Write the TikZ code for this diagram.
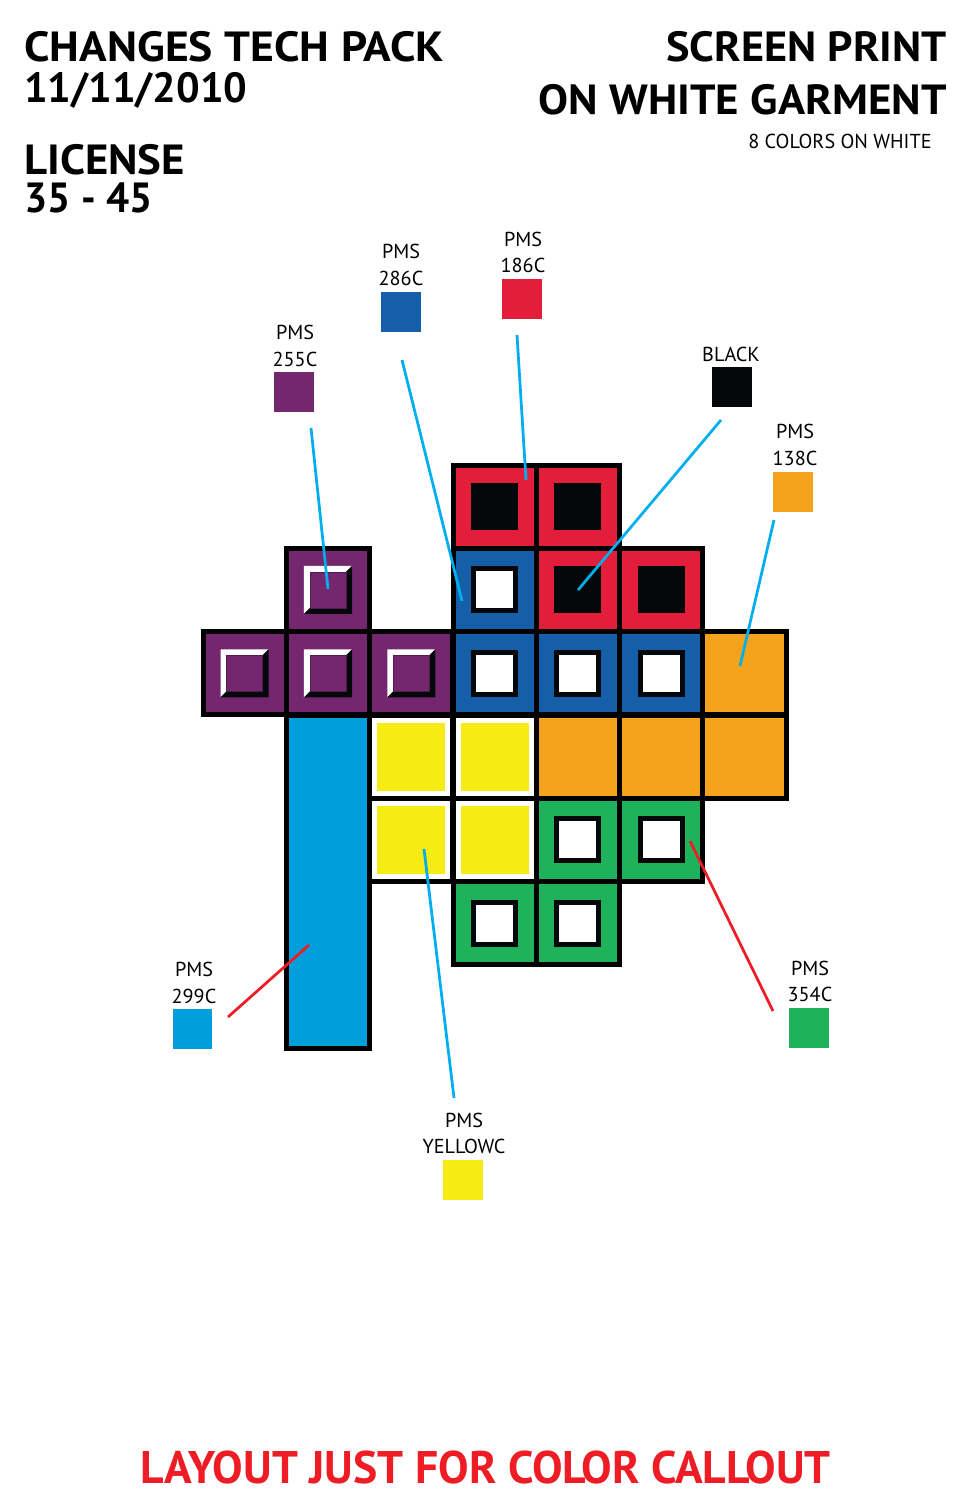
\documentclass[tikz,border=0pt]{standalone}
\usepackage{fontspec}
\setmainfont{PT Sans}
\definecolor{cpurple}{HTML}{74276F}
\definecolor{cblue}{HTML}{155FA9}
\definecolor{cred}{HTML}{E31E3A}
\definecolor{cblack}{HTML}{05080A}
\definecolor{corange}{HTML}{F5A31D}
\definecolor{ccyan}{HTML}{009FDC}
\definecolor{cyellow}{HTML}{F6EC14}
\definecolor{cgreen}{HTML}{20B25A}
\definecolor{lcyan}{HTML}{00AEEF}
\definecolor{lred}{HTML}{EE1C24}
\tikzset{
  cell/.style={draw=black, line width=0.1cm, minimum width=1.6667cm, minimum height=1.6667cm, inner sep=0pt, outer sep=0pt},
  swatch/.style={minimum width=0.8cm, minimum height=0.8cm, inner sep=0pt, outer sep=0pt},
  lbl/.style={font=\fontsize{11.5}{14}\selectfont, anchor=base, inner sep=0pt},
  head/.style={font=\fontsize{24}{28}\selectfont\bfseries, inner sep=0pt, text height=17pt, text depth=0pt},
  foothead/.style={font=\fontsize{26}{30}\selectfont\bfseries, inner sep=0pt, text height=18.5pt, text depth=0pt},
  cline/.style={draw=lcyan, line width=0.055cm},
  rline/.style={draw=lred, line width=0.055cm},
}
\newcommand{\cellpos}[2]{({203+(#1+0.5)*83.33},{465+(#2+0.5)*83.33})}
\begin{document}
\begin{tikzpicture}[x=0.02cm, y=-0.02cm]
\useasboundingbox (0,0) rectangle (971,1500);
% headings
\node[head, anchor=base west] (h1) at (24,62) {\scalebox{1.083}[1]{CHANGES TECH PACK}};
\node[head, anchor=base west] (h2) at (24,103) {\scalebox{0.989}[1]{11/11/2010}};
\node[head, anchor=base west] (h3) at (24,175) {\scalebox{1.062}[1]{LICENSE}};
\node[head, anchor=base west] (h4) at (24,213) {\scalebox{0.969}[1]{35 - 45}};
\node[head, anchor=base east] (h5) at (947,62) {\scalebox{1.051}[1]{SCREEN PRINT}};
\node[head, anchor=base east] (h6) at (947,115) {\scalebox{1.065}[1]{ON WHITE GARMENT}};
\node[lbl, anchor=base east] (h7) at (932,149) {8 COLORS ON WHITE};
\node[foothead, anchor=base, text=lred] (foot) at (485.5,1483) {LAYOUT JUST FOR COLOR CALLOUT};
% cyan bar
\node[cell, fill=ccyan, minimum height=6.6667cm] (bar) at ({203+1.5*83.33},{465+5*83.33}) {};
% red cells
\foreach \c/\r in {3/0,4/0,4/1,5/1}{
  \node[cell, fill=cred] (red\c\r) at \cellpos{\c}{\r} {};
  \fill[cblack] ([shift={(-23.5,-23.5)}]red\c\r.center) rectangle ([shift={(23.5,23.5)}]red\c\r.center);
}
% blue cells
\foreach \c/\r in {3/1,3/2,4/2,5/2}{
  \node[cell, fill=cblue] (blue\c\r) at \cellpos{\c}{\r} {};
  \filldraw[fill=white, draw=cblack, line width=0.1cm] ([shift={(-21,-21)}]blue\c\r.center) rectangle ([shift={(21,21)}]blue\c\r.center);
}
% green cells
\foreach \c/\r in {4/4,5/4,3/5,4/5}{
  \node[cell, fill=cgreen] (green\c\r) at \cellpos{\c}{\r} {};
  \filldraw[fill=white, draw=cblack, line width=0.1cm] ([shift={(-21,-21)}]green\c\r.center) rectangle ([shift={(21,21)}]green\c\r.center);
}
% orange cells
\foreach \c/\r in {6/2,4/3,5/3,6/3}{
  \node[cell, fill=corange] (orange\c\r) at \cellpos{\c}{\r} {};
}
% yellow cells
\foreach \c/\r in {2/3,3/3,2/4,3/4}{
  \node[cell, fill=white] (yel\c\r) at \cellpos{\c}{\r} {};
  \fill[cyellow] ([shift={(-34,-34)}]yel\c\r.center) rectangle ([shift={(34,34)}]yel\c\r.center);
}
% purple cells with bevel
\foreach \c/\r in {1/1,0/2,1/2,2/2}{
  \node[cell, fill=cpurple] (pur\c\r) at \cellpos{\c}{\r} {};
  \begin{scope}[shift={(pur\c\r.center)}]
    \fill[white] (-24,-24) -- (24,-24) -- (18,-18) -- (-18,-18) -- (-18,18) -- (-24,24) -- cycle;
    \fill[cblack] (24,-24) -- (24,24) -- (-24,24) -- (-18,18) -- (18,18) -- (18,-18) -- cycle;
    \filldraw[fill=cpurple, draw=cpurple!70!black, line width=0.3pt] (-18,-18) rectangle (18,18);
  \end{scope}
}
% callout swatches and labels
\node[swatch, fill=cpurple] (s255) at (294,392) {};
\node[lbl] (l255a) at (295,339) {PMS};
\node[lbl] (l255b) at (295,366) {255C};
\node[swatch, fill=cblue] (s286) at (401,312) {};
\node[lbl] (l286a) at (401,259) {PMS};
\node[lbl] (l286b) at (401,286) {286C};
\node[swatch, fill=cred] (s186) at (522,299) {};
\node[lbl] (l186a) at (523,247) {PMS};
\node[lbl] (l186b) at (523,273) {186C};
\node[swatch, fill=cblack] (sblk) at (732,387) {};
\node[lbl] (lblk) at (731,361) {BLACK};
\node[swatch, fill=corange] (s138) at (793,492) {};
\node[lbl] (l138a) at (795,438) {PMS};
\node[lbl] (l138b) at (795,465) {138C};
\node[swatch, fill=ccyan] (s299) at (192.5,1029) {};
\node[lbl] (l299a) at (194,976) {PMS};
\node[lbl] (l299b) at (194,1003) {299C};
\node[swatch, fill=cyellow] (syel) at (463,1180) {};
\node[lbl] (lyela) at (464,1127) {PMS};
\node[lbl] (lyelb) at (464,1153) {YELLOWC};
\node[swatch, fill=cgreen] (s354) at (808.5,1028) {};
\node[lbl] (l354a) at (810,975) {PMS};
\node[lbl] (l354b) at (810,1001) {354C};
% connector ends
\coordinate (e255) at (311,428);   \coordinate (t255) at (328,589);
\coordinate (e286) at (402,360);   \coordinate (t286) at (462,601);
\coordinate (e186) at (517,335);   \coordinate (t186) at (526,480);
\coordinate (eblk) at (721,420);   \coordinate (tblk) at (578,590);
\coordinate (e138) at (774,520);   \coordinate (t138) at (740,666);
\coordinate (e299) at (228,1017);  \coordinate (t299) at (309,945);
\coordinate (eyel) at (454,1098);  \coordinate (tyel) at (424,849);
\coordinate (e354) at (773,1011);  \coordinate (t354) at (690,841);
\draw[cline] (e255) -- (t255);
\draw[cline] (e286) -- (t286);
\draw[cline] (e186) -- (t186);
\draw[cline] (eblk) -- (tblk);
\draw[cline] (e138) -- (t138);
\draw[rline] (e299) -- (t299);
\draw[cline] (eyel) -- (tyel);
\draw[rline] (e354) -- (t354);
\end{tikzpicture}
\end{document}
